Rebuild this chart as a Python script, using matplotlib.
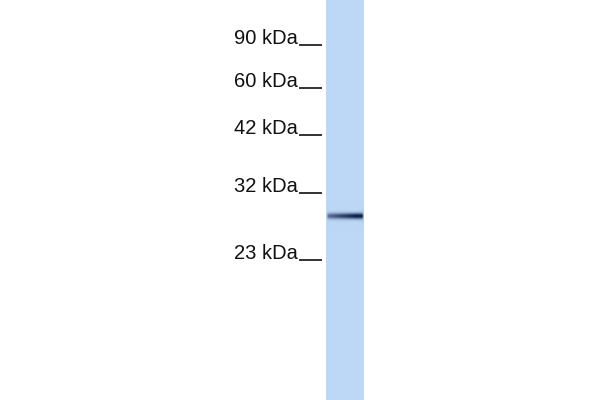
import numpy as np
import matplotlib
matplotlib.use("Agg")
import matplotlib.pyplot as plt

# marker ladder (label, migration distance in px from top of blot)
marker_labels = ["90 kDa", "60 kDa", "42 kDa", "32 kDa", "23 kDa"]
marker_pos = [45, 88, 135, 193, 260]

# detected band
band_pos = 216
band_strength = 0.9

lane_left, lane_right = 326, 364
lane_rgb = np.array([188, 216, 246]) / 255.0
band_rgb = np.array([18, 36, 78]) / 255.0

fig = plt.figure(figsize=(6, 4), dpi=100)
ax = fig.add_axes([0, 0, 1, 1])
ax.set_xlim(0, 600)
ax.set_ylim(400, 0)
ax.axis("off")

# lane image: flat blue with the band painted in
h, w = 400, lane_right - lane_left
yy = np.arange(h)[:, None] + 0.5
xx = np.arange(w)[None, :] + 0.5
vert = np.exp(-0.5 * ((yy - band_pos) / 2.1) ** 2)
horiz = 0.6 + 0.4 * np.clip((xx - 4) / (w - 12), 0, 1)
horiz = horiz * np.clip(xx / 3, 0, 1) * np.clip((w - xx) / 2, 0, 1)
alpha = np.clip(band_strength * vert * horiz * 1.15, 0, 1)
img = lane_rgb[None, None, :] * (1 - alpha[..., None]) + band_rgb[None, None, :] * alpha[..., None]
ax.imshow(img, extent=(lane_left, lane_right, h, 0), aspect="auto", interpolation="bilinear")

for lab, pos in zip(marker_labels, marker_pos):
    ax.text(298, pos - 1, lab, ha="right", va="baseline", fontsize=14.5,
            family="Liberation Sans", color="#111111")
    ax.plot([299, 322], [pos, pos], color="#111111", lw=1.2, solid_capstyle="butt")

fig.savefig("out.png", dpi=100)
